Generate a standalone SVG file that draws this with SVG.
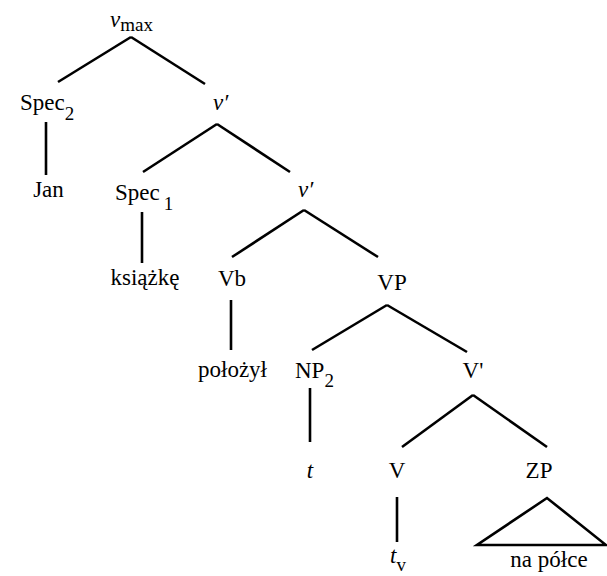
<svg xmlns="http://www.w3.org/2000/svg" width="607" height="576" viewBox="0 0 607 576">
<style>
text{font-family:'Liberation Serif','Times New Roman',Times,serif;font-size:23px;fill:#000}
.it{font-style:italic}
.sub{font-size:19px}
.e{stroke:#000;stroke-width:2.6;fill:none;stroke-linecap:butt}
</style>
<rect width="607" height="576" fill="#fff"/>
<g id="connectors">
<line class="e" x1="131" y1="37" x2="58" y2="82"/>
<line class="e" x1="131" y1="37" x2="205" y2="84"/>
<line class="e" x1="46" y1="122" x2="46" y2="175"/>
<line class="e" x1="217" y1="124" x2="143" y2="172"/>
<line class="e" x1="217" y1="124" x2="290" y2="172"/>
<line class="e" x1="142" y1="212" x2="142" y2="263"/>
<line class="e" x1="304" y1="210" x2="232" y2="257"/>
<line class="e" x1="304" y1="210" x2="378" y2="257"/>
<line class="e" x1="231" y1="300" x2="231" y2="350"/>
<line class="e" x1="387" y1="305" x2="312" y2="350"/>
<line class="e" x1="387" y1="305" x2="467" y2="352"/>
<line class="e" x1="310" y1="388" x2="310" y2="442"/>
<line class="e" x1="473" y1="395" x2="402" y2="447"/>
<line class="e" x1="473" y1="395" x2="547" y2="447"/>
<line class="e" x1="397" y1="497" x2="397" y2="542"/>
<polygon class="e" points="547,498 477,545 606,545"/>
</g>
<g id="vmax"><text x="110" y="27"><tspan class="it">v</tspan><tspan class="sub" dy="4">max</tspan></text></g>
<g id="spec2"><text x="20" y="110">Spec<tspan class="sub" dy="10">2</tspan></text></g>
<g id="vbar1"><text x="213" y="110" class="it">v′</text></g>
<g id="jan"><text x="48.5" y="197" text-anchor="middle">Jan</text></g>
<g id="spec1"><text x="115" y="200">Spec<tspan class="sub" dx="4" dy="10">1</tspan></text></g>
<g id="vbar2"><text x="298" y="197" class="it">v′</text></g>
<g id="ksiazke"><text x="145" y="285" text-anchor="middle">książkę</text></g>
<g id="vb"><text x="218" y="286">Vb</text></g>
<g id="vp"><text x="392" y="290" text-anchor="middle">VP</text></g>
<g id="polozyl"><text x="232.5" y="377" text-anchor="middle">położył</text></g>
<g id="np2"><text x="295" y="378">NP<tspan class="sub" dy="9">2</tspan></text></g>
<g id="vbar3"><text x="473" y="378" text-anchor="middle">V'</text></g>
<g id="t"><text x="310" y="478" class="it" text-anchor="middle">t</text></g>
<g id="v"><text x="397" y="478" text-anchor="middle">V</text></g>
<g id="zp"><text x="539" y="478" text-anchor="middle">ZP</text></g>
<g id="tv"><text x="390" y="563"><tspan class="it">t</tspan><tspan class="sub" dy="8">v</tspan></text></g>
<g id="napolce"><text x="549" y="567" text-anchor="middle">na półce</text></g>
</svg>
